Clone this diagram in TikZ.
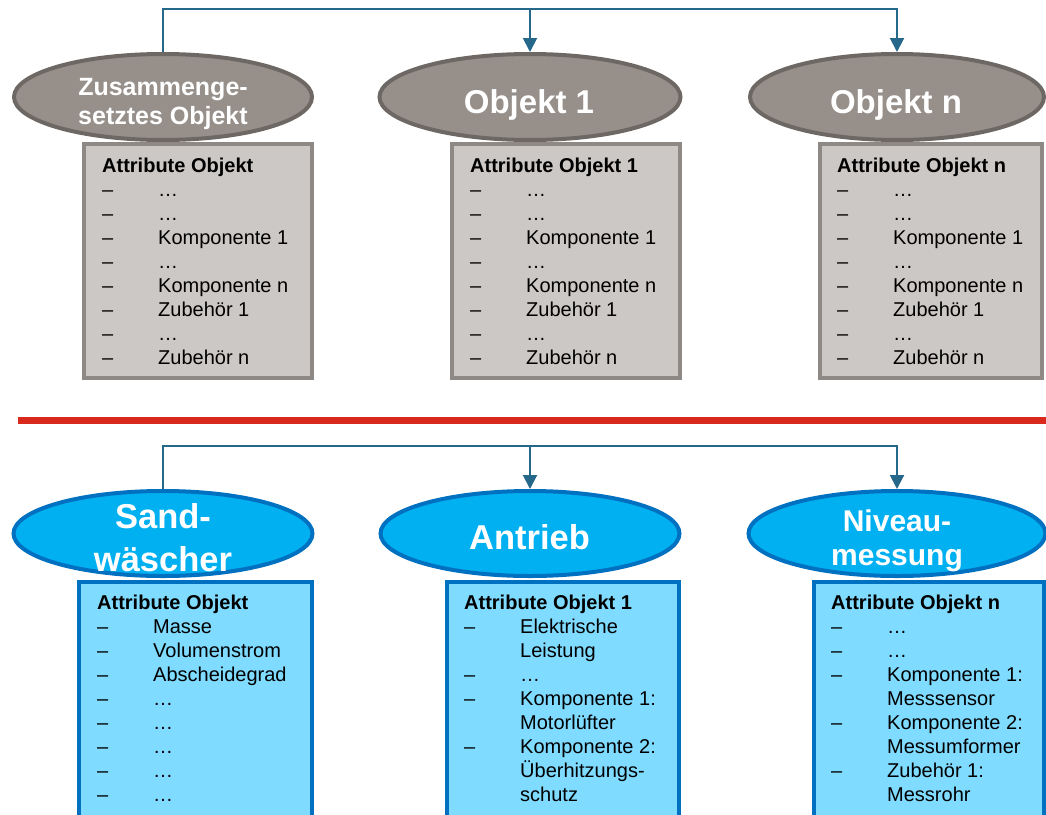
\documentclass[tikz,border=0pt]{standalone}
\usepackage{fontspec}
\setmainfont{Liberation Sans}
\usetikzlibrary{shapes.geometric,arrows.meta}
\definecolor{connc}{HTML}{26688A}
\definecolor{gfill}{HTML}{968F8A}
\definecolor{gdraw}{HTML}{6E6864}
\definecolor{bgfill}{HTML}{CCC8C5}
\definecolor{bgdraw}{HTML}{8F8985}
\definecolor{cfill}{HTML}{00B0F0}
\definecolor{cdraw}{HTML}{0070C0}
\definecolor{bcfill}{HTML}{7FDBFF}
\definecolor{redline}{HTML}{D9291C}
\newcommand{\itm}[1]{\makebox[56pt][l]{–}#1}
\newcommand{\cnt}[1]{\hspace*{56pt}#1}
\begin{document}
\begin{tikzpicture}[x=1pt,y=-1pt,
  ell/.style={ellipse, line width=4pt, inner sep=0pt, minimum height=86pt},
  grayell/.style={ell, draw=gdraw, fill=gfill},
  cyanell/.style={ell, draw=cdraw, fill=cfill},
  graybox/.style={rectangle, draw=bgdraw, fill=bgfill, line width=4pt, anchor=north west, inner sep=0pt},
  cyanbox/.style={rectangle, draw=cdraw, fill=bcfill, line width=4pt, anchor=north west, inner sep=0pt},
  etext/.style={text=white, anchor=base, inner sep=0pt},
  btext/.style={anchor=base west, inner sep=0pt, font=\fontsize{20}{24}\selectfont},
  connline/.style={draw=connc, line width=2pt},
  arr/.style={connline, -{Triangle[width=14pt,length=14pt]}}
]
\useasboundingbox (0,0) rectangle (1046,814);

% ---------- top row ----------
\node[grayell, minimum width=298pt] (te1) at (163,97) {};
\node[grayell, minimum width=301pt] (te2) at (530,97) {};
\node[grayell, minimum width=294pt] (te3) at (897,97) {};

\node[etext, font=\bfseries\fontsize{25}{29}\selectfont] (tt1) at (163,95)
  {\begin{tabular}[t]{@{}c@{}}Zusammenge-\\setztes Objekt\end{tabular}};
\node[etext, font=\bfseries\fontsize{33}{38}\selectfont] (tt2) at (529,113) {Objekt 1};
\node[etext, font=\bfseries\fontsize{33}{38}\selectfont] (tt3) at (896,113) {Objekt n};

\coordinate (tj1) at (163,9);
\draw[arr] (te1.north) -- (tj1) -| (te3.north);
\draw[arr] (te2.north |- tj1) -- (te2.north);

\node[graybox, minimum width=228pt, minimum height=234pt] (tb1) at (82,142) {};
\node[graybox, minimum width=228pt, minimum height=234pt] (tb2) at (450,142) {};
\node[graybox, minimum width=222pt, minimum height=234pt] (tb3) at (818,142) {};

\node[btext] (tx1) at (102,172) {\begin{tabular}[t]{@{}l@{}}
\textbf{Attribute Objekt}\\
\itm{…}\\ \itm{…}\\ \itm{Komponente 1}\\ \itm{…}\\ \itm{Komponente n}\\
\itm{Zubehör 1}\\ \itm{…}\\ \itm{Zubehör n}
\end{tabular}};
\node[btext] (tx2) at (470,172) {\begin{tabular}[t]{@{}l@{}}
\textbf{Attribute Objekt 1}\\
\itm{…}\\ \itm{…}\\ \itm{Komponente 1}\\ \itm{…}\\ \itm{Komponente n}\\
\itm{Zubehör 1}\\ \itm{…}\\ \itm{Zubehör n}
\end{tabular}};
\node[btext] (tx3) at (837,172) {\begin{tabular}[t]{@{}l@{}}
\textbf{Attribute Objekt n}\\
\itm{…}\\ \itm{…}\\ \itm{Komponente 1}\\ \itm{…}\\ \itm{Komponente n}\\
\itm{Zubehör 1}\\ \itm{…}\\ \itm{Zubehör n}
\end{tabular}};

% ---------- separator ----------
\draw[redline, line width=7pt] (18,420.5) -- (1046,420.5);

% ---------- bottom row ----------
\node[cyanell, minimum width=299pt, minimum height=85pt] (be1) at (163,533.5) {};
\node[cyanell, minimum width=299pt, minimum height=85pt] (be2) at (530,533.5) {};
\node[cyanell, minimum width=297pt, minimum height=85pt] (be3) at (897,533.5) {};

\node[etext, font=\bfseries\fontsize{34.5}{43.5}\selectfont] (bt1) at (163,528)
  {\begin{tabular}[t]{@{}c@{}}Sand-\\wäscher\end{tabular}};
\node[etext, font=\bfseries\fontsize{34.5}{40}\selectfont] (bt2) at (529.5,549.3) {Antrieb};
\node[etext, font=\bfseries\fontsize{30}{33.5}\selectfont] (bt3) at (897,531.7)
  {\begin{tabular}[t]{@{}c@{}}Niveau-\\messung\end{tabular}};

\coordinate (bj1) at (163,446);
\draw[arr] (be1.north) -- (bj1) -| (be3.north);
\draw[arr] (be2.north |- bj1) -- (be2.north);

\node[cyanbox, minimum width=233pt, minimum height=260pt] (bb1) at (77,580) {};
\node[cyanbox, minimum width=232pt, minimum height=260pt] (bb2) at (445,580) {};
\node[cyanbox, minimum width=230pt, minimum height=260pt] (bb3) at (812,580) {};

\node[btext] (bx1) at (97,609) {\begin{tabular}[t]{@{}l@{}}
\textbf{Attribute Objekt}\\
\itm{Masse}\\ \itm{Volumenstrom}\\ \itm{Abscheidegrad}\\ \itm{…}\\ \itm{…}\\
\itm{…}\\ \itm{…}\\ \itm{…}
\end{tabular}};
\node[btext] (bx2) at (464,609) {\begin{tabular}[t]{@{}l@{}}
\textbf{Attribute Objekt 1}\\
\itm{Elektrische}\\ \cnt{Leistung}\\ \itm{…}\\ \itm{Komponente 1:}\\ \cnt{Motorlüfter}\\
\itm{Komponente 2:}\\ \cnt{Überhitzungs-}\\ \cnt{schutz}
\end{tabular}};
\node[btext] (bx3) at (831,609) {\begin{tabular}[t]{@{}l@{}}
\textbf{Attribute Objekt n}\\
\itm{…}\\ \itm{…}\\ \itm{Komponente 1:}\\ \cnt{Messsensor}\\ \itm{Komponente 2:}\\
\cnt{Messumformer}\\ \itm{Zubehör 1:}\\ \cnt{Messrohr}
\end{tabular}};
\end{tikzpicture}
\end{document}
